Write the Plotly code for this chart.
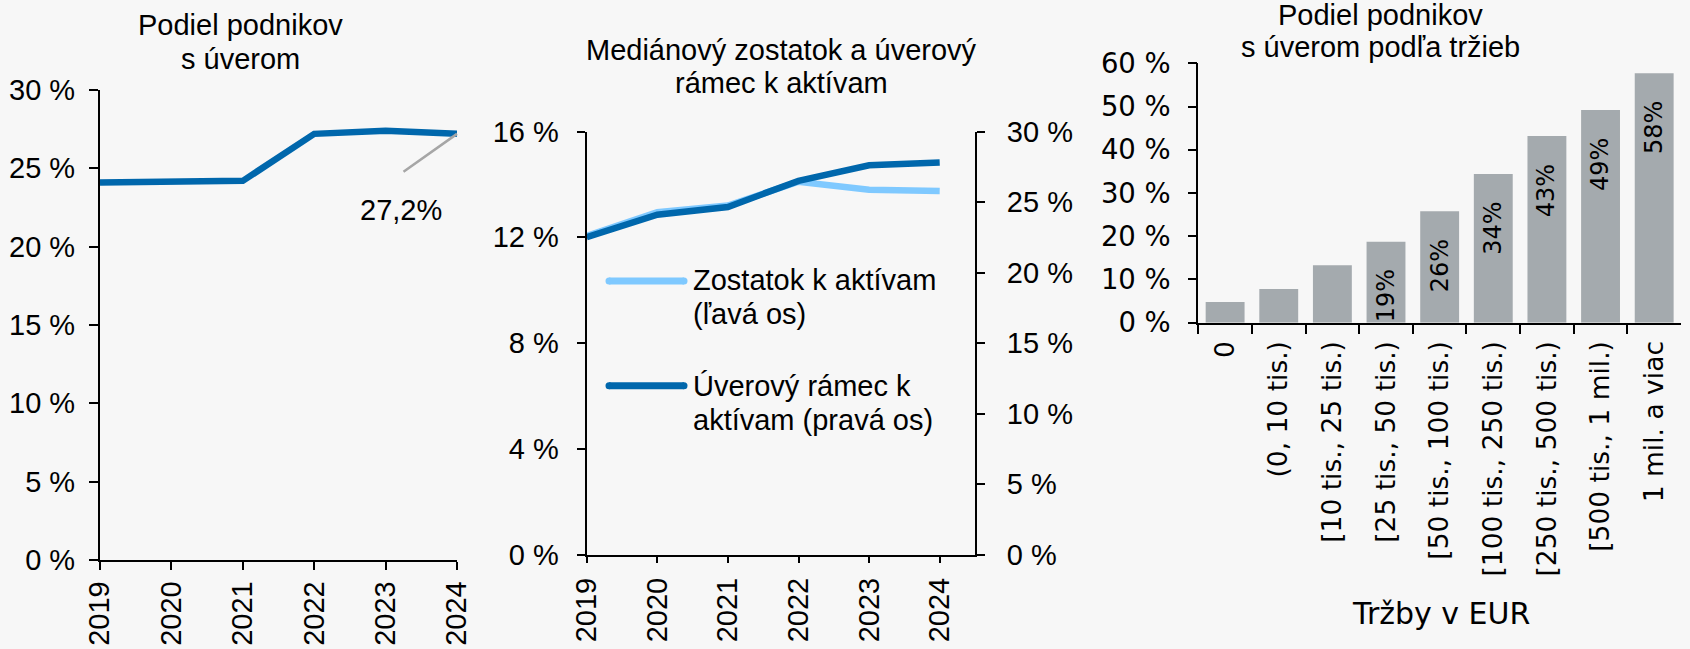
import plotly.graph_objects as go

# ---------------- data ----------------
years = [2019, 2020, 2021, 2022, 2023, 2024]
share_with_loan = [24.1, 24.1, 24.2, 27.2, 27.4, 27.2]          # panel 1, %
balance_to_assets = [12.05, 12.95, 13.2, 14.1, 13.8, 13.75]     # panel 2, left axis, %
limit_to_assets = [22.5, 24.1, 24.65, 26.5, 27.6, 27.8]         # panel 2, right axis, %

revenue_bins = ["0", "(0, 10 tis.)", "[10 tis., 25 tis.)", "[25 tis., 50 tis.)",
                "[50 tis., 100 tis.)", "[100 tis., 250 tis.)", "[250 tis., 500 tis.)",
                "[500 tis., 1 mil.)", "1 mil. a viac"]
share_by_revenue = [4.8, 7.8, 13.3, 18.7, 25.8, 34.4, 43.2, 49.2, 57.7]
bar_labels = ["", "", "", "19%", "26%", "34%", "43%", "49%", "58%"]

ticks_30 = [0, 5, 10, 15, 20, 25, 30]
ticks_16 = [0, 4, 8, 12, 16]
ticks_60 = [0, 10, 20, 30, 40, 50, 60]

title1 = ["Podiel podnikov", "s úverom"]
title2 = ["Mediánový zostatok a úverový", "rámec k aktívam"]
title3 = ["Podiel podnikov", "s úverom podľa tržieb"]
legend1 = ["Zostatok k aktívam", "(ľavá os)"]
legend2 = ["Úverový rámec k", "aktívam (pravá os)"]
xtitle3 = "Tržby v EUR"

# ---------------- style ----------------
W, H = 1690, 649
BG = "#f7f7f7"
DARK = "#0067ac"
LIGHT = "#7fc9ff"
GRAY = "#a4aaae"
LEADER = "#a6a6a6"
ARIAL = "Liberation Sans, Arial, sans-serif"
VERD = "DejaVu Sans, Verdana, sans-serif"


def px(x):
    return x / W


def py(y):
    return 1 - y / H


def pct(vals):
    return [f"{v} %" for v in vals]


axis_common = dict(showline=True, linecolor="black", linewidth=1.5,
                   ticks="outside", tickcolor="black", tickwidth=1.5,
                   showgrid=False, zeroline=False, fixedrange=True)

fig = go.Figure()

# Panel 1
fig.add_trace(go.Scatter(x=years, y=share_with_loan, mode="lines",
                         line=dict(color=DARK, width=6.5),
                         xaxis="x", yaxis="y", showlegend=False, hoverinfo="skip"))
# Panel 2
fig.add_trace(go.Scatter(x=years, y=balance_to_assets, mode="lines",
                         line=dict(color=LIGHT, width=6.5),
                         xaxis="x2", yaxis="y2", showlegend=False, hoverinfo="skip"))
fig.add_trace(go.Scatter(x=years, y=limit_to_assets, mode="lines",
                         line=dict(color=DARK, width=6.5),
                         xaxis="x2", yaxis="y3", showlegend=False, hoverinfo="skip"))
# Panel 3
fig.add_trace(go.Bar(x=revenue_bins, y=share_by_revenue, marker=dict(color=GRAY, line=dict(width=0)),
                     xaxis="x3", yaxis="y4", showlegend=False, hoverinfo="skip"))

fig.update_layout(
    template="none",
    width=W, height=H,
    margin=dict(l=0, r=0, t=0, b=0),
    paper_bgcolor=BG, plot_bgcolor=BG,
    showlegend=False,
    bargap=0.275,
    font=dict(family=ARIAL, size=29, color="black"),
    xaxis=dict(axis_common, domain=[px(100), px(457)], range=[2019, 2024], anchor="y",
               tickvals=years, tickangle=-90, ticklen=8, ticklabelstandoff=0,
               tickfont=dict(family=ARIAL, size=29)),
    yaxis=dict(axis_common, domain=[py(560), py(90)], range=[0, 30], anchor="x",
               tickvals=ticks_30, ticktext=pct(ticks_30), ticklen=9.3, ticklabelstandoff=8,
               tickfont=dict(family=ARIAL, size=29)),
    xaxis2=dict(axis_common, domain=[px(586.7), px(975)], range=[2019, 2024.5], anchor="y2",
                tickvals=years, tickangle=-90, ticklen=7, ticklabelstandoff=3,
                tickfont=dict(family=ARIAL, size=29)),
    yaxis2=dict(axis_common, domain=[py(554.5), py(131.5)], range=[0, 16], anchor="x2",
                tickvals=ticks_16, ticktext=pct(ticks_16), ticklen=8.3, ticklabelstandoff=12,
                tickfont=dict(family=ARIAL, size=29)),
    yaxis3=dict(axis_common, overlaying="y2", side="right", range=[0, 30], anchor="x2",
                tickvals=ticks_30, ticktext=pct(ticks_30), ticklen=8.3, ticklabelstandoff=16,
                tickfont=dict(family=ARIAL, size=29)),
    xaxis3=dict(axis_common, domain=[px(1198.3), px(1681)], type="category", range=[-0.5, 8.5],
                anchor="y4", tickangle=-90, tickson="boundaries", ticklen=10, ticklabelstandoff=6,
                tickfont=dict(family=VERD, size=26.5)),
    yaxis4=dict(axis_common, domain=[py(322.7), py(63.3)], range=[0, 60], anchor="x3",
                tickvals=ticks_60, ticktext=pct(ticks_60), ticklen=8.3, ticklabelstandoff=12,
                tickfont=dict(family=VERD, size=27.5)),
)

annotations = []


def paper_text(text, x, y, size=29, family=ARIAL, xanchor="center"):
    annotations.append(dict(text=text, x=px(x), y=py(y), xref="paper", yref="paper",
                            xanchor=xanchor, yanchor="middle", showarrow=False,
                            font=dict(family=family, size=size, color="black")))


# titles
paper_text(title1[0], 240, 25)
paper_text(title1[1], 240, 59)
paper_text(title2[0], 781.5, 50)
paper_text(title2[1], 781.5, 83)
paper_text(title3[0], 1380, 15)
paper_text(title3[1], 1380, 47)

# legend (panel 2)
paper_text(legend1[0], 690.7, 280, xanchor="left")
paper_text(legend1[1], 690.7, 313.5, xanchor="left")
paper_text(legend2[0], 690.7, 385.5, xanchor="left")
paper_text(legend2[1], 690.7, 420, xanchor="left")

# x-axis title panel 3
paper_text(xtitle3, 1441, 613, size=30, family=VERD)

# panel 1 last value label with leader line
last_val = share_with_loan[-1]
annotations.append(dict(x=years[-1], y=last_val, xref="x", yref="y", text="",
                        showarrow=True, arrowhead=0, arrowwidth=2.5, arrowcolor=LEADER,
                        ax=-55, ay=39, axref="pixel", ayref="pixel", standoff=0, startstandoff=0))
annotations.append(dict(x=years[-1], y=last_val, xref="x", yref="y",
                        text=f"{last_val:.1f}%".replace(".", ","),
                        showarrow=False, xshift=-56, yshift=-76,
                        font=dict(family=ARIAL, size=29, color="black")))

# bar labels panel 3
for cat, val, lab in zip(revenue_bins, share_by_revenue, bar_labels):
    if lab:
        annotations.append(dict(x=cat, y=val, xref="x3", yref="y4", text=lab,
                                textangle=-90, yanchor="top", xanchor="center",
                                yshift=-26, showarrow=False,
                                font=dict(family=VERD, size=24, color="black")))

fig.update_layout(annotations=annotations)

# legend swatches (round-capped look via line + end dots)
shapes = []
for yy, col in ((281, LIGHT), (385.7, DARK)):
    shapes.append(dict(type="line", xref="paper", yref="paper", x0=px(609), x1=px(684),
                       y0=py(yy), y1=py(yy), line=dict(color=col, width=7)))
    for xx in (609, 684):
        shapes.append(dict(type="circle", xref="paper", yref="paper",
                           x0=px(xx - 3.5), x1=px(xx + 3.5), y0=py(yy + 3.5), y1=py(yy - 3.5),
                           fillcolor=col, line=dict(width=0)))
fig.update_layout(shapes=shapes)

fig.write_html(
    "out.html",
    config={"displayModeBar": False},
    post_script="document.body.style.margin='0';document.body.style.padding='0';"
                "document.body.style.background='" + BG + "';"
                "document.documentElement.style.overflow='hidden';",
)
